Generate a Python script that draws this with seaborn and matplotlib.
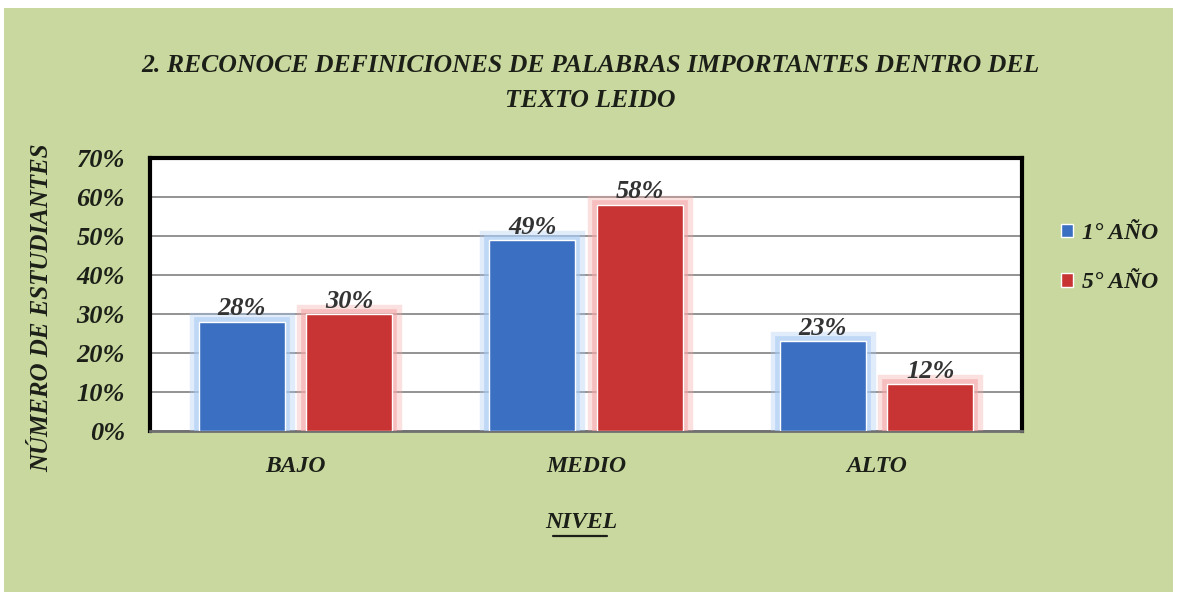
import matplotlib
matplotlib.use("Agg")
import matplotlib.pyplot as plt
import matplotlib.patheffects as pe
from matplotlib.patches import Rectangle
import seaborn as sns
import pandas as pd

categories = ["BAJO", "MEDIO", "ALTO"]
series_names = ["1° AÑO", "5° AÑO"]
values_1 = [28, 49, 23]
values_5 = [30, 58, 12]
y_ticks = [0, 10, 20, 30, 40, 50, 60, 70]

title = "2. RECONOCE DEFINICIONES DE PALABRAS IMPORTANTES DENTRO DEL\nTEXTO LEIDO"
xlabel = "NIVEL"
ylabel = "NÚMERO DE ESTUDIANTES"

df = pd.DataFrame({
    "nivel": categories * 2,
    "serie": [series_names[0]] * 3 + [series_names[1]] * 3,
    "valor": values_1 + values_5,
})

sns.set_theme(style="white")
plt.rcParams["font.family"] = ["Liberation Serif", "DejaVu Serif"]

W, H = 1177, 596
fig = plt.figure(figsize=(W / 100, H / 100), dpi=100)
fig.patch.set_facecolor("white")
bg = "#c8d89e"
fig.patches.append(Rectangle((4 / W, 4 / H), (W - 8) / W, (H - 12) / H,
                             transform=fig.transFigure, facecolor=bg,
                             edgecolor="none", zorder=-10))

ax = fig.add_axes([150 / W, 1 - 431 / H, 872 / W, 273 / H])
ax.set_facecolor("white")

palette = {series_names[0]: "#3b6fc1", series_names[1]: "#c83434"}
glow = {series_names[0]: "#a9cbf4", series_names[1]: "#f4a8a8"}

sns.barplot(data=df, x="nivel", y="valor", hue="serie", order=categories,
            hue_order=series_names, palette=palette, width=0.74, gap=0.2,
            saturation=1, ax=ax, legend=True, zorder=3)

txtkw = dict(fontweight="bold", fontstyle="italic", color="#1c1f18")

for cont, name in zip(ax.containers, series_names):
    for p in cont:
        p.set_path_effects([pe.Stroke(linewidth=14, foreground=glow[name], alpha=0.35),
                            pe.Stroke(linewidth=7, foreground=glow[name], alpha=0.6),
                            pe.Normal()])
    ax.bar_label(cont, labels=[f"{int(v)}%" for v in cont.datavalues],
                 padding=1, fontsize=19, color="#333333",
                 fontweight="bold", fontstyle="italic")

ax.set_ylim(0, 70)
ax.set_yticks(y_ticks)
ax.set_yticklabels([f"{t}%" for t in y_ticks], fontsize=19, **txtkw)
ax.set_xticks(range(len(categories)))
ax.set_xticklabels(categories, fontsize=17, **txtkw)
ax.tick_params(axis="x", pad=18, length=0)
ax.tick_params(axis="y", pad=18, length=0)
ax.grid(axis="y", color="#808080", linewidth=1.2, zorder=0)
ax.set_axisbelow(True)
for side in ["top", "right", "left"]:
    ax.spines[side].set_color("black")
    ax.spines[side].set_linewidth(3)
ax.spines["bottom"].set_color("#707070")
ax.spines["bottom"].set_linewidth(2)

ax.set_xlabel("")
ax.set_ylabel("")
fig.text(42 / W, 1 - 308 / H, ylabel, rotation=90, ha="center", va="center",
         fontsize=18, **txtkw)
fig.text(581 / W, 1 - 523 / H, xlabel, ha="center", va="center",
         fontsize=17, **txtkw)
fig.lines.append(plt.Line2D([553 / W, 607 / W], [1 - 536 / H, 1 - 536 / H],
                            transform=fig.transFigure, color="#1c1f18", linewidth=1.6))

fig.text(590 / W, 1 - 83 / H, title, ha="center", va="center", fontsize=18.5,
         linespacing=1.65, **txtkw)

leg = ax.legend(loc="center left", bbox_to_anchor=(1040 / W, 1 - 258 / H),
                bbox_transform=fig.transFigure, frameon=False,
                prop=dict(size=17, weight="bold", style="italic"),
                handlelength=0.5, handleheight=0.5, handletextpad=0.4,
                labelspacing=1.2)
for txt in leg.get_texts():
    txt.set_color("#1c1f18")

fig.savefig("out.png", dpi=100, facecolor=fig.get_facecolor())
